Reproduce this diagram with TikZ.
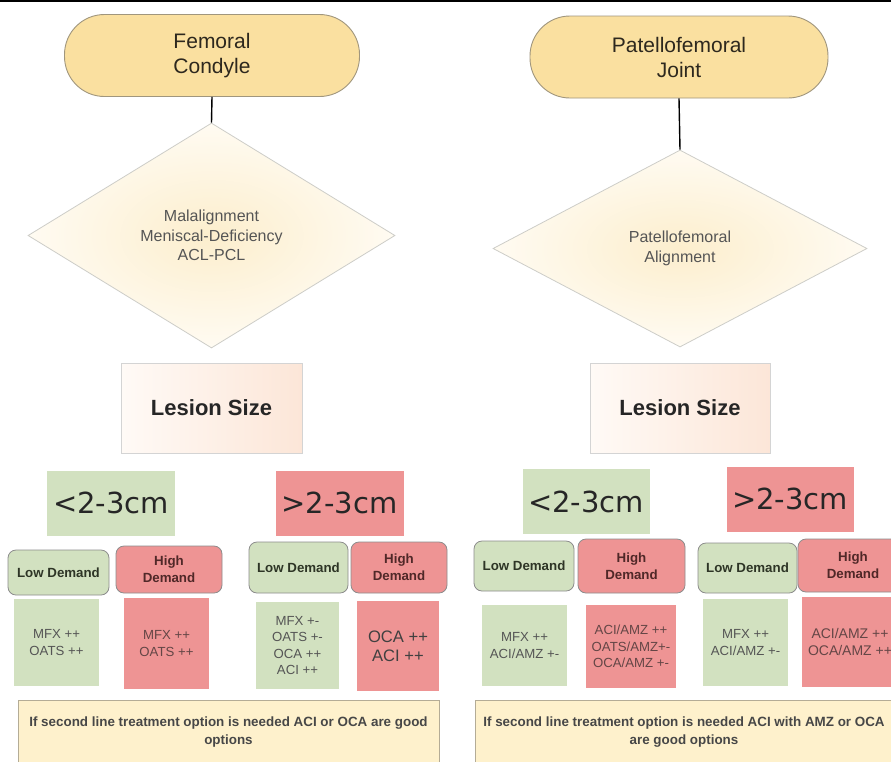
\documentclass[tikz,border=0pt]{standalone}
\usepackage{fontspec}
\setmainfont{Liberation Sans}
\newfontfamily\djv{DejaVu Sans}
\usetikzlibrary{shapes.geometric}
\definecolor{termfill}{RGB}{250,224,160}
\definecolor{termborder}{RGB}{160,150,125}
\definecolor{diainner}{RGB}{252,238,205}
\definecolor{diaouter}{RGB}{255,251,242}
\definecolor{diaborder}{RGB}{205,205,200}
\definecolor{lesA}{RGB}{255,250,246}
\definecolor{lesB}{RGB}{252,230,216}
\definecolor{lesborder}{RGB}{212,212,212}
\definecolor{gfill}{RGB}{210,225,192}
\definecolor{rfill}{RGB}{238,148,148}
\definecolor{dborder}{RGB}{140,140,140}
\definecolor{notefill}{RGB}{254,241,204}
\definecolor{noteborder}{RGB}{180,172,150}
\definecolor{titletext}{RGB}{45,40,30}
\definecolor{graytext}{RGB}{85,85,85}
\definecolor{gtext}{RGB}{46,53,38}
\definecolor{rtext}{RGB}{80,40,40}
\definecolor{rgray}{RGB}{100,70,70}
\begin{document}
\begin{tikzpicture}[x=1pt,y=-1pt,
  term/.style={draw=termborder, fill=termfill, rounded corners=40pt, line width=0.9pt,
    minimum height=82pt, inner sep=0pt, align=center, text=titletext,
    font=\fontsize{21}{25}\selectfont},
  dia/.style={diamond, draw=diaborder, line width=0.8pt, inner color=diainner, outer color=diaouter,
    inner sep=0pt, align=center, text=graytext, font=\fontsize{16}{19.5}\selectfont},
  lesion/.style={draw=lesborder, line width=0.8pt, left color=lesA, right color=lesB,
    minimum width=180pt, minimum height=90pt, inner sep=0pt, text=black!85,
    font=\fontsize{22}{26}\selectfont\bfseries},
  sizeg/.style={fill=gfill, minimum width=128pt, minimum height=65pt, inner sep=0pt,
    text=black!85, font=\djv\fontsize{29}{32}\selectfont},
  sizer/.style={sizeg, fill=rfill},
  lowd/.style={draw=dborder, fill=gfill, rounded corners=8pt, line width=0.8pt,
    inner sep=0pt, align=center, text=gtext, font=\fontsize{13.3}{17}\selectfont\bfseries},
  highd/.style={lowd, fill=rfill, text=rtext},
  contg/.style={fill=gfill, inner sep=0pt, align=center, text=graytext,
    font=\fontsize{13.2}{16.5}\selectfont},
  contr/.style={contg, fill=rfill, text=rgray},
  note/.style={draw=noteborder, fill=notefill, line width=0.8pt, inner sep=0pt, align=center,
    text=black!72, font=\fontsize{13.4}{18}\selectfont\bfseries},
  conn/.style={draw=black, line width=1.4pt}
]
\useasboundingbox (0,0) rectangle (891,761);
\clip (0,0) rectangle (891,761);
\fill[white] (0,0) rectangle (891,761);
\fill[black] (0,0) rectangle (891,2.2);

% ---------- Left column ----------
\node[term, minimum width=295pt] (t1) at (212,55.5) {Femoral\\Condyle};
\node[dia, minimum width=367pt, minimum height=225pt] (d1) at (211.5,235.5)
  {Malalignment\\Meniscal-Deficiency\\ACL-PCL};
\node[lesion, minimum width=181pt] (l1) at (211.5,408) {Lesion Size};
\node[sizeg] (s1) at (111,503) {<2-3cm};
\node[sizer] (s2) at (339.5,503) {>2-3cm};
\node[lowd, minimum width=101pt, minimum height=45pt] (ld1) at (58.5,572.5) {Low Demand};
\node[highd, minimum width=106pt, minimum height=47pt] (hd1) at (169,569.5) {High\\Demand};
\node[lowd, minimum width=99pt, minimum height=51pt] (ld2) at (298.5,567.5) {Low Demand};
\node[highd, minimum width=96pt, minimum height=51pt] (hd2) at (399,567.5) {High\\Demand};
\node[contg, minimum width=85pt, minimum height=87pt] (c1) at (56.5,642.5) {MFX ++\\OATS ++};
\node[contr, minimum width=85pt, minimum height=91pt] (c2) at (166.5,643.5) {MFX ++\\OATS ++};
\node[contg, minimum width=83pt, minimum height=87pt] (c3) at (297.5,645.5) {MFX +-\\OATS +-\\OCA ++\\ACI ++};
\node[contr, minimum width=82pt, minimum height=90pt, text=black!75,
  font=\fontsize{16.6}{19}\selectfont] (c4) at (398,646) {OCA ++\\ACI ++};
\node[note, minimum width=421pt, minimum height=64pt] (n1) at (228.5,732)
  {If second line treatment option is needed ACI or OCA are good\\options};

% ---------- Right column ----------
\node[term, minimum width=298pt] (t2) at (679,57) {Patellofemoral\\Joint};
\node[dia, minimum width=374pt, minimum height=197pt] (d2) at (680,248.5)
  {Patellofemoral\\Alignment};
\node[lesion] (l2) at (680,408) {Lesion Size};
\node[sizeg, minimum width=127pt] (s3) at (586,501.5) {<2-3cm};
\node[sizer, minimum width=127pt] (s4) at (790,499) {>2-3cm};
\node[lowd, minimum width=100pt, minimum height=50pt] (ld3) at (524,566) {Low Demand};
\node[highd, minimum width=107pt, minimum height=54pt] (hd3) at (631.5,566) {High\\Demand};
\node[lowd, minimum width=99pt, minimum height=50pt] (ld4) at (747.5,568) {Low Demand};
\node[highd, minimum width=110pt, minimum height=53pt] (hd4) at (853,565.5) {High\\Demand};
\node[contg, minimum width=85pt, minimum height=81pt] (c5) at (524.5,645.5) {MFX ++\\ACI/AMZ +-};
\node[contr, minimum width=90pt, minimum height=83pt] (c6) at (631,646.5) {ACI/AMZ ++\\OATS/AMZ+-\\OCA/AMZ +-};
\node[contg, minimum width=85pt, minimum height=87pt] (c7) at (745.5,642.5) {MFX ++\\ACI/AMZ +-};
\node[contr, minimum width=96pt, minimum height=90pt, font=\fontsize{14}{16.5}\selectfont] (c8) at (850,642) {ACI/AMZ ++\\OCA/AMZ ++};
\node[note, minimum width=418pt, minimum height=64pt] (n2) at (684,732)
  {If second line treatment option is needed ACI with AMZ or OCA\\are good options};

% ---------- Connectors ----------
\draw[conn] (t1.south) -- (d1.north);
\draw[conn] (t2.south) -- (d2.north);
\end{tikzpicture}
\end{document}
